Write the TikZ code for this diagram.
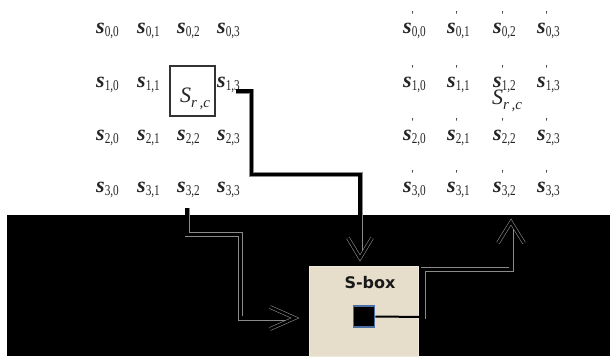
\documentclass[tikz,border=0pt]{standalone}
\usepackage{fontspec}
\setmainfont{Liberation Serif}
\newfontfamily\sboxfont{DejaVu Sans}
\usetikzlibrary{calc}
\definecolor{sboxbg}{HTML}{E6DECA}
\definecolor{sqblue}{HTML}{4A6FA5}
\definecolor{edgegray}{HTML}{8A8A8A}
\newcommand\ment[2]{{\fontsize{22}{22}\selectfont\bfseries\itshape s}\raisebox{-3pt}{\scalebox{0.75}[1]{\fontsize{15}{15}\selectfont #1,#2}}}
\newcommand\mentp[2]{\makebox[0pt][l]{\hspace*{8.5pt}\raisebox{14pt}{\fontsize{12}{12}\selectfont\textquotesingle}}\ment{#1}{#2}}
\newcommand\Srcc{{\fontsize{22}{22}\selectfont\itshape S}\raisebox{-5pt}{\fontsize{15}{15}\selectfont\itshape r\,,c}}
\begin{document}
\begin{tikzpicture}[x=1pt,y=-1pt,
  ent/.style={anchor=base west, inner sep=0pt, text=black!85},
  conn/.style={draw=edgegray, double=black, double distance=3.5pt, line width=0.75pt, line join=miter},
  tipline/.style={draw=edgegray, double=black, double distance=2.5pt, line width=0.6pt, line join=miter}]
\useasboundingbox (0,0) rectangle (610,356);
\fill[white] (0,0) rectangle (610,356);
\fill[black] (7,215) rectangle (610,356);
% matrices
\foreach \c/\x in {0/96,1/137,2/177,3/217}{
  \foreach \r/\y in {0/33,1/87,2/140,3/192}{
    \ifnum\r\c=12 \else
    \node[ent] (a\r\c) at (\x,\y) {\ment{\r}{\c}};
    \fi
  }
}
\foreach \c/\x in {0/403,1/447,2/493,3/537}{
  \foreach \r/\y in {0/33,1/87,2/140,3/192}{
    \node[ent] (b\r\c) at (\x,\y) {\mentp{\r}{\c}};
  }
}
% S_{r,c} box (left) and label (right)
\node[draw=black!80, line width=1.5pt, minimum width=45pt, minimum height=50pt, inner sep=0pt] (srcbox) at (192.5,91) {};
\node[ent] (src) at (180,102) {\Srcc};
\node[ent] (srcp) at (492,104) {\Srcc};
% S-box
\node[fill=sboxbg, draw=sboxbg!60!white, line width=0.6pt, minimum width=109pt, minimum height=90pt, inner sep=0pt, anchor=north west] (sbox) at (309,266) {};
\node[text=black!90, inner sep=0pt, font=\sboxfont\bfseries\fontsize{16}{16}\selectfont] (lbl) at (370,283) {S-box};
\node[fill=black, draw=sqblue, line width=1.8pt, minimum size=21pt, inner sep=0pt] (sq) at (364,316.5) {};
% connector 1: s_{1,3} -> S-box
\coordinate (p1) at ($(a13.base east)+(-4,4)$);
\coordinate (t1) at (360,258);
\draw[conn] (p1) -- (251.5,91) -- (251.5,174.5) -- (360,174.5) -- ($(t1)+(0,-2)$);
\draw[tipline] ($(t1)+(-12,-20)$) -- (t1) -- ($(t1)+(12,-20)$);
% connector 2: s_{3,2} -> S-box
\coordinate (p2) at ($(a32.base west)+(10,16)$);
\coordinate (t2) at (295,318);
\draw[conn] (p2) -- (187,234.5) -- (240.5,234.5) -- (240.5,318) -- ($(t2)+(-2,0)$);
\draw[tipline] ($(t2)+(-25,-11)$) -- (t2) -- ($(t2)+(-25,11)$);
% connector 3: S-box -> s'
\coordinate (e3) at (423,317);
\coordinate (t3) at (511,222);
\draw[line width=2pt] (sq.east) -- (e3);
\draw[conn] ($(e3)+(0,2)$) -- (423,269.5) -- (511,269.5) -- ($(t3)+(0,2)$);
\draw[tipline] ($(t3)+(-13,21)$) -- (t3) -- ($(t3)+(13,21)$);
\end{tikzpicture}
\end{document}
